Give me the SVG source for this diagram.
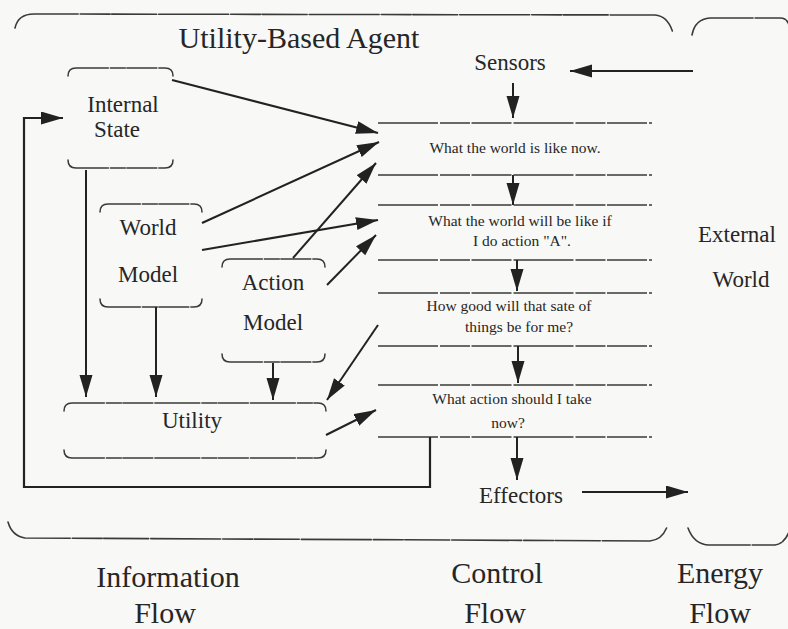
<svg xmlns="http://www.w3.org/2000/svg" width="788" height="629" viewBox="0 0 788 629">
  <style>
    .bg { fill: #f8f8f7; }
    .txt { font-family: "Liberation Serif", "Times New Roman", serif; fill: #262626; text-anchor: middle; }
    .big { font-size: 30px; }
    .mid { font-size: 23px; }
    .small { font-size: 15.5px; }
    .frame { fill: none; stroke: #3a3a3a; stroke-width: 1.6; stroke-dasharray: 70 2 30 1.5 45 2; stroke-linecap: round; }
    .box { fill: none; stroke: #3a3a3a; stroke-width: 1.5; stroke-dasharray: 45 2 15 1.5 30 2; stroke-linecap: round; }
    .rule { fill: none; stroke: #3a3a3a; stroke-width: 1.5; stroke-dasharray: 60 2 30 1.5 40 2; }
    .edge { fill: none; stroke: #222; stroke-width: 2; }
    .solid { fill: none; stroke: #222; stroke-width: 2.2; }
  </style>
  <defs>
    <marker id="head" markerUnits="userSpaceOnUse" markerWidth="24" markerHeight="14" refX="22" refY="6.5" orient="auto">
      <path d="M0,0 L22,6.5 L0,13 z" fill="#222"/>
    </marker>
  </defs>

  <rect class="bg" x="0" y="0" width="788" height="629"/>

  <!-- agent frame -->
  <g id="agent-frame">
    <path class="frame" d="M15,28 Q18,14 34,14 L655,15 Q668,16 673,33"/>
    <path class="frame" d="M8,522 Q12,536 25,538 L650,541 Q662,540 667,527"/>
    <text class="txt big" x="299" y="48">Utility-Based Agent</text>
  </g>

  <!-- external world frame -->
  <g id="external-world">
    <path class="frame" d="M692,35 Q695,19 710,18 L780,18 Q787,18 789,25"/>
    <path class="frame" d="M688,528 Q694,544 708,545 L775,545 Q784,544 789,532"/>
    <text class="txt mid" x="737" y="242">External</text>
    <text class="txt mid" x="741" y="287">World</text>
  </g>

  <!-- information flow nodes -->
  <g id="internal-state">
    <path class="box" d="M68,76 Q68,68 76,68 L165,68 Q173,68 173,76"/>
    <path class="box" d="M68,160 Q68,168 76,168 L165,168 Q173,168 173,160"/>
    <text class="txt mid" x="123" y="112">Internal</text>
    <text class="txt mid" x="117" y="137">State</text>
  </g>

  <g id="world-model">
    <path class="box" d="M100,212 Q100,204 108,204 L194,204 Q202,204 202,212"/>
    <path class="box" d="M100,299 Q100,307 108,307 L194,307 Q202,307 202,299"/>
    <text class="txt mid" x="148" y="235">World</text>
    <text class="txt mid" x="148" y="282">Model</text>
  </g>

  <g id="action-model">
    <path class="box" d="M222,267 Q222,259 230,259 L317,259 Q325,259 325,267"/>
    <path class="box" d="M222,354 Q222,362 230,362 L317,362 Q325,362 325,354"/>
    <text class="txt mid" x="273" y="290">Action</text>
    <text class="txt mid" x="273" y="330">Model</text>
  </g>

  <g id="utility">
    <path class="box" d="M64,411 Q64,403 72,403 L318,403 Q326,403 326,411"/>
    <path class="box" d="M64,450 Q64,458 72,458 L318,458 Q326,458 326,450"/>
    <text class="txt mid" x="192" y="428">Utility</text>
  </g>

  <!-- control flow column -->
  <g id="sensors">
    <text class="txt mid" x="510" y="70">Sensors</text>
  </g>

  <g id="world-now">
    <path class="rule" d="M378,123 L652,123"/>
    <path class="rule" d="M378,175 L652,175"/>
    <text class="txt small" x="515" y="153">What the world is like now.</text>
  </g>

  <g id="world-if">
    <path class="rule" d="M378,205 L652,205"/>
    <path class="rule" d="M378,260 L652,260"/>
    <text class="txt small" x="520" y="226">What the world will be like if</text>
    <text class="txt small" x="522" y="246">I do action "A".</text>
  </g>

  <g id="how-good">
    <path class="rule" d="M378,293 L652,293"/>
    <path class="rule" d="M378,346 L652,346"/>
    <text class="txt small" x="509" y="311">How good will that sate of</text>
    <text class="txt small" x="519" y="332">things be for me?</text>
  </g>

  <g id="what-action">
    <path class="rule" d="M378,385 L652,385"/>
    <path class="rule" d="M378,437 L652,437"/>
    <text class="txt small" x="512" y="404">What action should I take</text>
    <text class="txt small" x="508" y="428">now?</text>
  </g>

  <g id="effectors">
    <text class="txt mid" x="521" y="503">Effectors</text>
  </g>

  <!-- flow labels -->
  <g id="flow-labels">
    <text class="txt big" x="168" y="587">Information</text>
    <text class="txt big" x="165" y="623">Flow</text>
    <text class="txt big" x="497" y="583">Control</text>
    <text class="txt big" x="495" y="623">Flow</text>
    <text class="txt big" x="720" y="583">Energy</text>
    <text class="txt big" x="720" y="623">Flow</text>
  </g>

  <!-- connectors -->
  <g id="connectors">
    <path class="edge" d="M693,71 L570,71" marker-end="url(#head)"/>
    <path class="edge" d="M513,83 L513,118" marker-end="url(#head)"/>
    <path class="edge" d="M513,175 L513,205" marker-end="url(#head)"/>
    <path class="edge" d="M517,260 L517,291" marker-end="url(#head)"/>
    <path class="edge" d="M518,346 L518,383" marker-end="url(#head)"/>
    <path class="edge" d="M517,437 L517,480" marker-end="url(#head)"/>
    <path class="edge" d="M582,492 L688,492" marker-end="url(#head)"/>

    <path class="edge" d="M172,80 L378,133" marker-end="url(#head)"/>
    <path class="edge" d="M202,223 L379,142" marker-end="url(#head)"/>
    <path class="edge" d="M293,258 L376,163" marker-end="url(#head)"/>
    <path class="edge" d="M202,250 L378,220" marker-end="url(#head)"/>
    <path class="edge" d="M327,285 L376,235" marker-end="url(#head)"/>
    <path class="edge" d="M378,325 L327,400" marker-end="url(#head)"/>
    <path class="edge" d="M326,435 L376,410" marker-end="url(#head)"/>

    <path class="edge" d="M86,170 L86,397" marker-end="url(#head)"/>
    <path class="edge" d="M156,307 L156,397" marker-end="url(#head)"/>
    <path class="edge" d="M273,363 L273,400" marker-end="url(#head)"/>

    <path class="solid" d="M430,437 L430,487 L24,487 L24,118 L63,118" marker-end="url(#head)"/>
  </g>
</svg>
